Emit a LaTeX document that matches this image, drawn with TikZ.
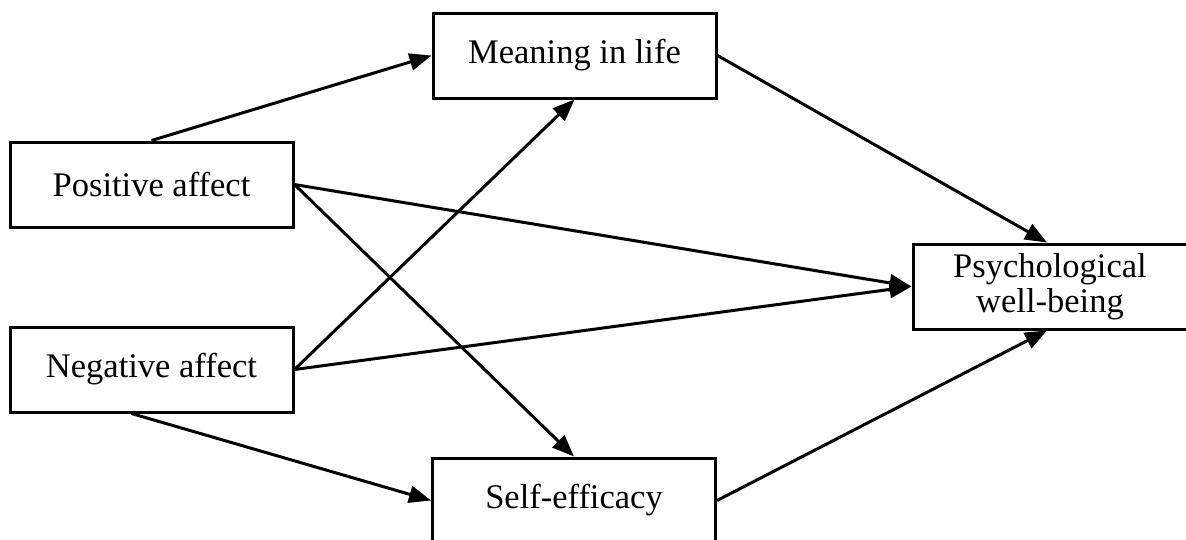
\documentclass[tikz,border=0pt]{standalone}
\usepackage{fontspec}
\setmainfont{Liberation Serif}
\usetikzlibrary{arrows.meta,calc}
\begin{document}
\begin{tikzpicture}[x=1pt,y=-1pt,
  box/.style={draw,line width=3pt,minimum width=283pt,minimum height=85pt,
    inner sep=0pt,align=center,font=\fontsize{34.5}{35}\selectfont},
  conn/.style={line width=3pt,-{Triangle[length=22pt,width=17pt]}}]
\useasboundingbox (0,0) rectangle (1186,539);
\begin{scope}
\clip (0,0) rectangle (1186,539);
\node[box] (mean) at (574.5,55.5) {Meaning in life};
\node[box] (pos) at (151.5,184.5) {Positive affect};
\node[box] (neg) at (151.5,369.5) {Negative affect};
\node[box] (self) at (574,500.5) {Self-efficacy};
\node[box,minimum width=274pt] (psy) at (1050,286.5) {Psychological\\well-being};
\draw[conn] (pos.north) -- (mean.west);
\draw[conn] (neg.east) -- (mean.south);
\draw[conn] (pos.east) -- (psy.west);
\draw[conn] (pos.east) -- (self.north);
\draw[conn] (neg.east) -- (psy.west);
\draw[conn] ([xshift=-20pt]neg.south) -- (self.west);
\draw[conn] (mean.east) -- ([xshift=-3pt]psy.north);
\draw[conn] (self.east) -- ([xshift=-3pt]psy.south);
\end{scope}
\end{tikzpicture}
\end{document}
